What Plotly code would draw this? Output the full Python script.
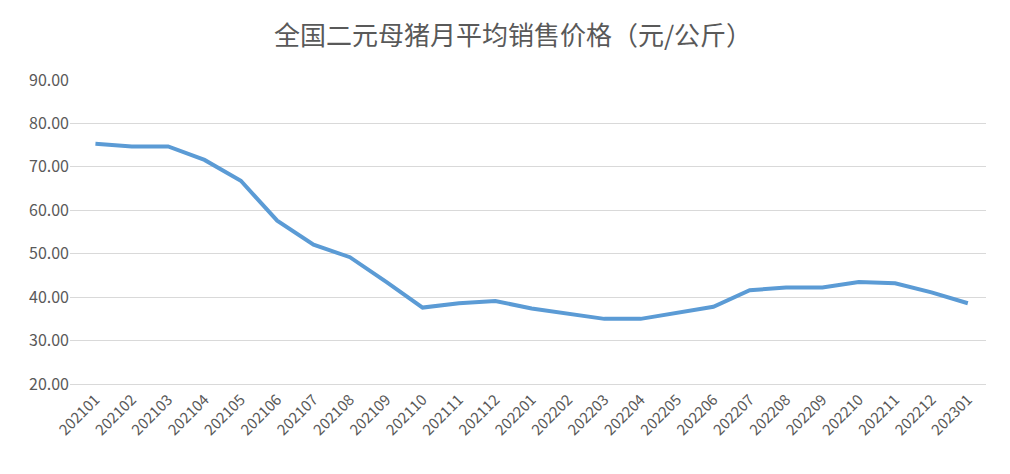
import plotly.graph_objects as go

months = ["202101","202102","202103","202104","202105","202106","202107","202108","202109","202110","202111","202112",
          "202201","202202","202203","202204","202205","202206","202207","202208","202209","202210","202211","202212","202301"]
prices = [75.3,74.7,74.7,71.6,66.8,57.6,52.1,49.2,43.5,37.6,38.6,39.1,37.4,36.1,35.0,35.0,36.5,37.8,41.6,42.2,42.2,43.5,43.2,41.1,38.6]

fig = go.Figure(go.Scatter(x=months, y=prices, mode="lines",
                           line=dict(color="#5b9bd5", width=4)))
fig.update_layout(
    width=1010, height=474,
    paper_bgcolor="white", plot_bgcolor="white",
    margin=dict(l=62, r=32, t=72, b=98),
    title=dict(text="全国二元母猪月平均销售价格（元/公斤）", x=0.5, xanchor="center", y=0.96,
               font=dict(family="Noto Sans CJK SC", size=26, color="#595959")),
    showlegend=False,
    font=dict(family="Noto Sans CJK SC", color="#595959"),
)
fig.update_xaxes(type="category", tickangle=-45, tickfont=dict(size=15, color="#595959"),
                 showgrid=False, showline=True, linecolor="#d9d9d9", ticks="", range=[-0.7, 24.5])
fig.update_yaxes(range=[20, 90], dtick=10, tickformat=".2f", tickfont=dict(size=16, color="#595959"),
                 showgrid=True, gridcolor="#d9d9d9", zeroline=False, ticks="")
fig.write_html("out.html")
